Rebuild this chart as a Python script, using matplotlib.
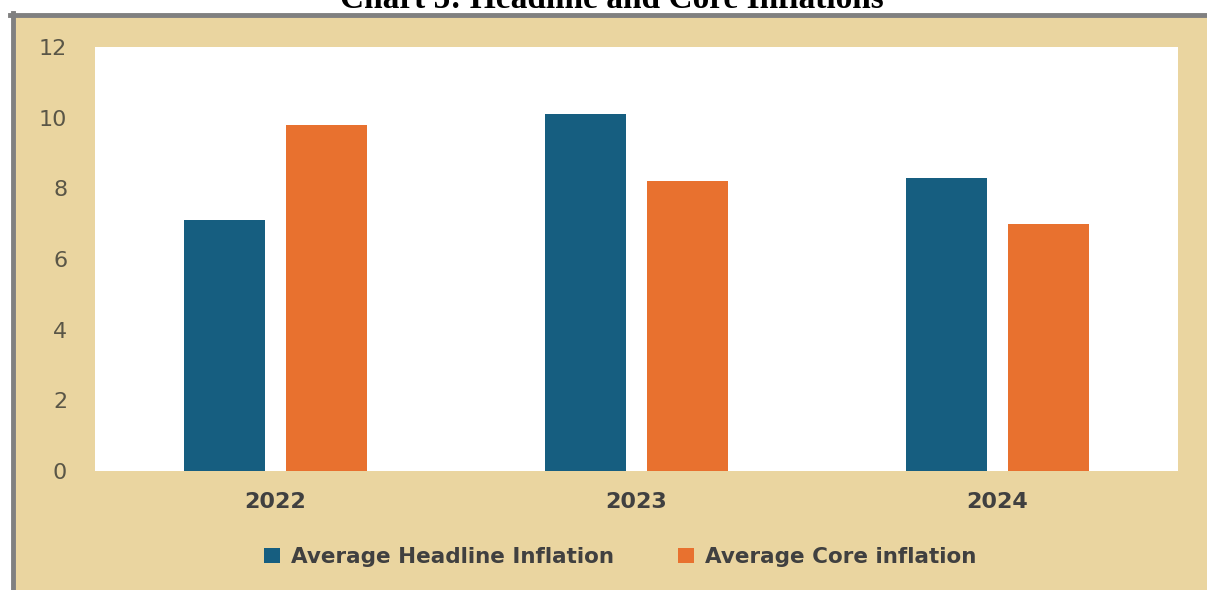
import matplotlib
matplotlib.use("Agg")
import matplotlib.pyplot as plt
from matplotlib.patches import Rectangle
from matplotlib.lines import Line2D
import numpy as np

# data
years = ["2022", "2023", "2024"]
headline = [7.1, 10.1, 8.3]
core = [9.8, 8.2, 7.0]
y_ticks = [0, 2, 4, 6, 8, 10, 12]

BLUE = "#165e80"
ORANGE = "#e8712f"
PANEL = "#ead5a0"

W, H = 1207, 590
fig = plt.figure(figsize=(W / 100, H / 100), dpi=100)
fig.patch.set_facecolor("white")

# textured panel (approximated as flat tan) and grey frame
fig.add_artist(Rectangle((15 / W, 0), 1 - 15 / W, (H - 17) / H,
                         transform=fig.transFigure, facecolor=PANEL,
                         edgecolor="none", zorder=0))
fig.add_artist(Line2D([10 / W, 1], [(H - 15) / H] * 2, transform=fig.transFigure,
                      color="#808080", lw=3.5, zorder=1))
fig.add_artist(Line2D([12.5 / W] * 2, [0, (H - 13) / H], transform=fig.transFigure,
                      color="#808080", lw=3.5, zorder=1))

# title, cut off at the top of the image like in the source
fig.text(612 / W, (H - 8) / H, "Chart 5: Headline and Core Inflations",
         ha="center", va="baseline", family="Liberation Serif",
         fontweight="bold", fontsize=24, color="black")

ax = fig.add_axes([95 / W, (H - 471) / H, 1083 / W, 424 / H])
ax.set_facecolor("white")

x = np.arange(len(years))
bw = 0.224
off = 0.142
ax.bar(x - off, headline, bw, color=BLUE, label="Average Headline Inflation")
ax.bar(x + off, core, bw, color=ORANGE, label="Average Core inflation")

ax.set_xlim(-0.5, len(years) - 0.5)
ax.set_ylim(0, 12)
ax.set_yticks(y_ticks)
ax.set_yticklabels([str(t) for t in y_ticks], fontsize=16, color="#5a5647")
ax.set_xticks(x)
ax.set_xticklabels(years, fontsize=16, fontweight="bold", color="#404040")
ax.tick_params(axis="y", length=0, pad=20)
ax.tick_params(axis="x", length=0, pad=15)
for s in ax.spines.values():
    s.set_visible(False)

leg = fig.legend(loc="center", bbox_to_anchor=(620 / W, (H - 557) / H), ncol=2,
                 frameon=False, handlelength=0.75, handleheight=0.75,
                 handletextpad=0.5, columnspacing=3.0,
                 prop={"size": 15.5, "weight": "bold"})
for t in leg.get_texts():
    t.set_color("#404040")

fig.savefig("out.png", dpi=100)
